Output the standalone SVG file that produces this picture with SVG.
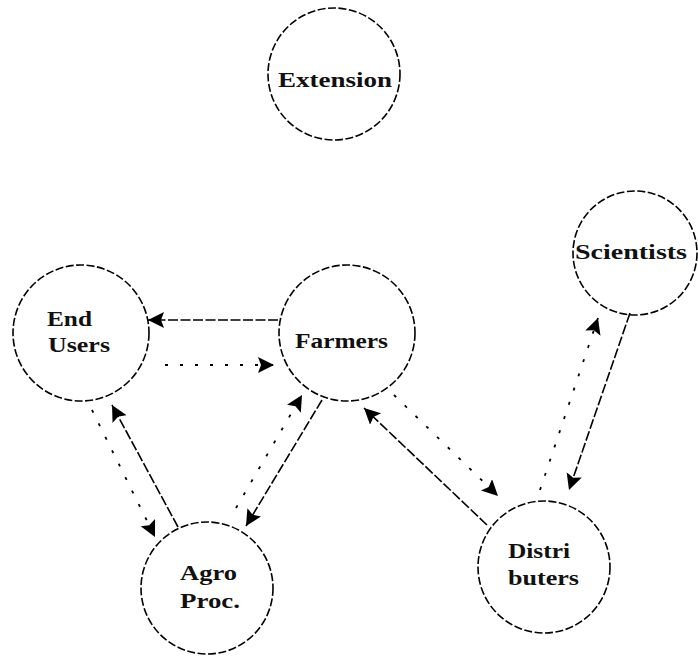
<svg xmlns="http://www.w3.org/2000/svg" width="698" height="656" viewBox="0 0 698 656">
<style>
.node circle{fill:none;stroke:#000;stroke-width:1.6;stroke-dasharray:8 2.5}
.node text{font-family:"Liberation Serif",serif;font-weight:bold;font-size:22px;fill:#111}
.solid{stroke:#000;stroke-width:1.6;stroke-dasharray:10 2.5;fill:none}
.dotted{stroke:#000;stroke-width:1.8;stroke-dasharray:3 12;fill:none}
</style>
<defs>
<marker id="ah" markerUnits="userSpaceOnUse" markerWidth="17" markerHeight="17" refX="16" refY="8" orient="auto">
<path d="M0,0 L16,8 L0,16 L3,8 z" fill="#000"/>
</marker>
</defs>
<rect width="698" height="656" fill="#fff"/>
<g id="extension" class="node">
<circle cx="334" cy="74" r="66"/>
<text x="278" y="87" textLength="114" lengthAdjust="spacingAndGlyphs">Extension</text>
</g>
<g id="end-users" class="node">
<circle cx="81" cy="333" r="68"/>
<text x="47" y="326" textLength="45" lengthAdjust="spacingAndGlyphs">End</text>
<text x="48" y="352" textLength="62" lengthAdjust="spacingAndGlyphs">Users</text>
</g>
<g id="farmers" class="node">
<circle cx="347" cy="333" r="68"/>
<text x="295" y="348" textLength="93" lengthAdjust="spacingAndGlyphs">Farmers</text>
</g>
<g id="scientists" class="node">
<circle cx="635" cy="253" r="62"/>
<text x="575" y="259" textLength="112" lengthAdjust="spacingAndGlyphs">Scientists</text>
</g>
<g id="distributers" class="node">
<circle cx="544" cy="567" r="66"/>
<text x="508" y="558" textLength="62" lengthAdjust="spacingAndGlyphs">Distri</text>
<text x="508" y="585" textLength="71" lengthAdjust="spacingAndGlyphs">buters</text>
</g>
<g id="agro-proc" class="node">
<circle cx="207" cy="588" r="66"/>
<text x="180" y="580" textLength="57" lengthAdjust="spacingAndGlyphs">Agro</text>
<text x="180" y="608" textLength="60" lengthAdjust="spacingAndGlyphs">Proc.</text>
</g>
<g id="connectors">
<line class="solid" x1="278" y1="320" x2="148" y2="320" marker-end="url(#ah)"/>
<line class="dotted" x1="165" y1="365" x2="274" y2="365" marker-end="url(#ah)"/>
<line class="solid" x1="178" y1="527" x2="112" y2="405" marker-end="url(#ah)"/>
<line class="dotted" x1="92" y1="410" x2="155" y2="537" marker-end="url(#ah)"/>
<line class="solid" x1="322" y1="400" x2="246" y2="526" marker-end="url(#ah)"/>
<line class="dotted" x1="236" y1="508" x2="302" y2="395" marker-end="url(#ah)"/>
<line class="solid" x1="487" y1="525" x2="364" y2="408" marker-end="url(#ah)"/>
<line class="dotted" x1="394" y1="395" x2="498" y2="496" marker-end="url(#ah)"/>
<line class="solid" x1="630" y1="313" x2="569" y2="490" marker-end="url(#ah)"/>
<line class="dotted" x1="540" y1="490" x2="598" y2="318" marker-end="url(#ah)"/>
</g>
</svg>
